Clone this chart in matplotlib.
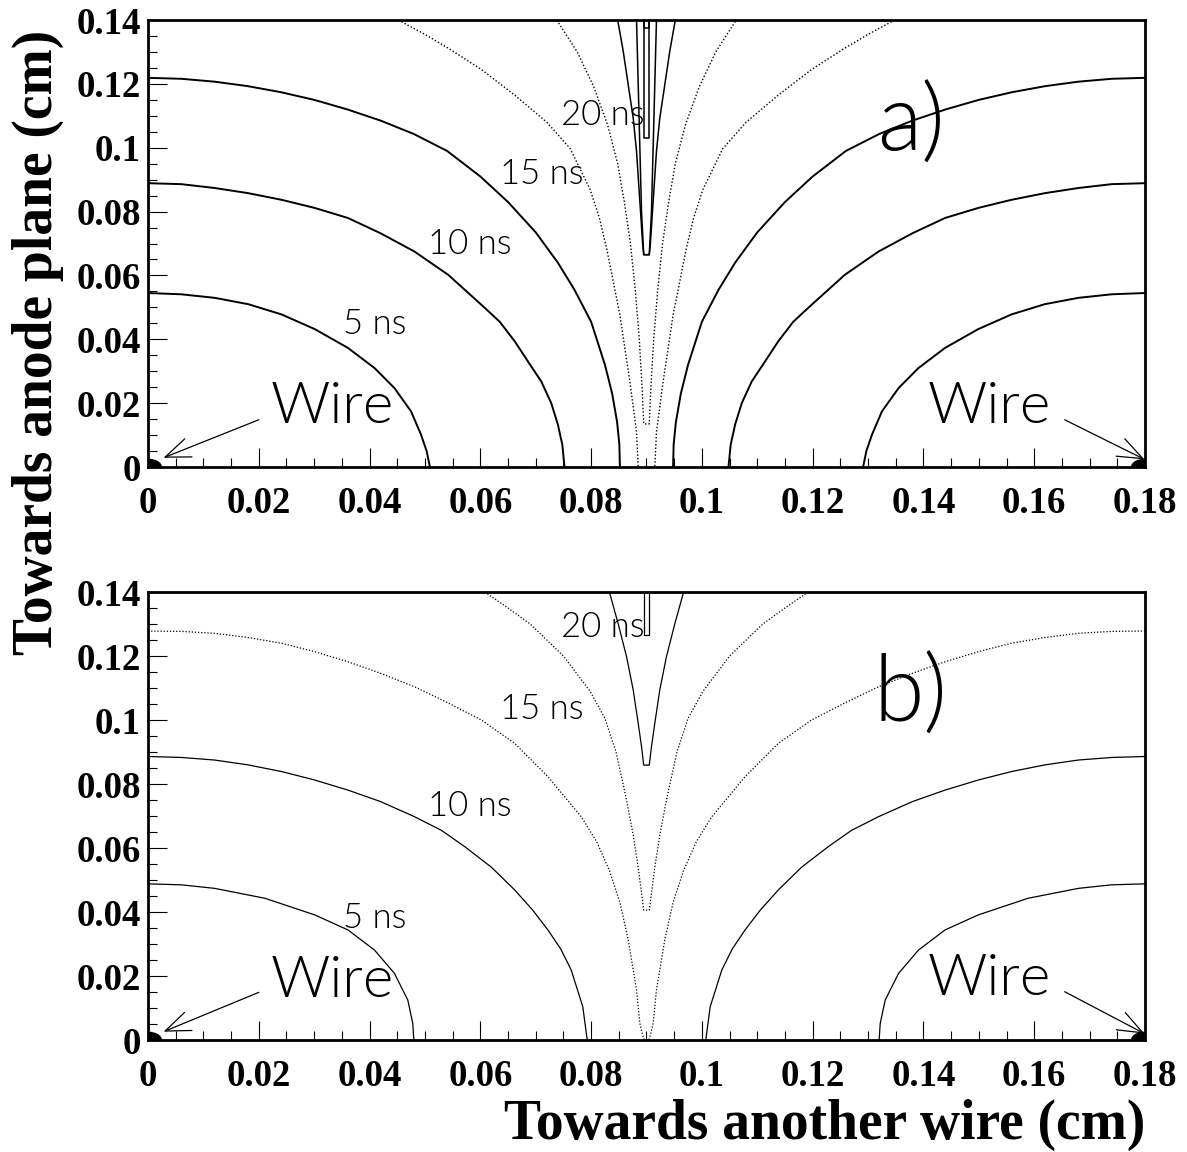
import matplotlib
matplotlib.use('Agg')
import matplotlib.pyplot as plt
from matplotlib import font_manager
from matplotlib.patches import Circle
from matplotlib.ticker import MultipleLocator, FuncFormatter

# wire spacing (cm); the cell is symmetric about CELL / 2
CELL = 0.18
TOP = 0.14

# ---- panel a) isochrones, left half (right half is the mirror image) ----
a_5ns_x = [0.0, 0.006, 0.012, 0.0181, 0.0241, 0.0301, 0.0361, 0.0409, 0.0445, 0.0475, 0.0493, 0.0503, 0.0509]
a_5ns_y = [0.0545, 0.0541, 0.0530, 0.0510, 0.0478, 0.0432, 0.0373, 0.0310, 0.0247, 0.0174, 0.0101, 0.0050, 0.0]

a_10ns_x = [0.0, 0.006, 0.012, 0.018, 0.0241, 0.030, 0.0361, 0.042, 0.0481, 0.0542, 0.0602, 0.0635,
            0.0662, 0.0690, 0.0710, 0.0728, 0.0740, 0.0748, 0.0752]
a_10ns_y = [0.0889, 0.0886, 0.0874, 0.0858, 0.0837, 0.0812, 0.0780, 0.0732, 0.0675, 0.0602, 0.0508, 0.0455,
            0.0394, 0.0320, 0.0268, 0.0200, 0.0133, 0.0070, 0.0]

a_15ns_x = [0.0, 0.006, 0.012, 0.018, 0.024, 0.030, 0.036, 0.042, 0.048, 0.054, 0.060, 0.065, 0.070,
            0.074, 0.077, 0.080, 0.0825, 0.0838, 0.0847, 0.0851, 0.0852]
a_15ns_y = [0.1219, 0.1216, 0.1207, 0.1193, 0.1174, 0.1150, 0.1120, 0.1085, 0.1043, 0.0990, 0.0910, 0.0830, 0.0735,
            0.0640, 0.0555, 0.0455, 0.0320, 0.0230, 0.0140, 0.0070, 0.0]

a_dot_outer_x = [0.0452, 0.0500, 0.0542, 0.0602, 0.0662, 0.0720, 0.0762, 0.0798, 0.0815, 0.0828, 0.0852, 0.0870, 0.0882, 0.0885]
a_dot_outer_y = [0.1400, 0.1355, 0.1312, 0.1245, 0.1165, 0.1080, 0.0998, 0.0870, 0.0780, 0.0685, 0.0476, 0.0267, 0.0110, 0.0]

# these close into narrow notches on the mid line
a_dot_inner_x = [0.0738, 0.0775, 0.0805, 0.0830, 0.0848, 0.0860, 0.0871, 0.0880, 0.0887, 0.0892, 0.0895]
a_dot_inner_y = [0.1400, 0.1300, 0.1190, 0.1070, 0.0950, 0.0830, 0.0700, 0.0550, 0.0400, 0.0250, 0.0135]

a_20ns_x = [0.0848, 0.0858, 0.0867, 0.0876, 0.0882, 0.0886, 0.0890, 0.0893, 0.0895]
a_20ns_y = [0.1400, 0.1302, 0.1197, 0.1093, 0.0989, 0.0884, 0.0780, 0.0700, 0.0665]

a_notch1_x = [0.0882, 0.0885, 0.0888, 0.0891, 0.0895]
a_notch1_y = [0.1400, 0.1200, 0.1000, 0.0800, 0.0665]

a_notch2_x = [0.0895, 0.0895]
a_notch2_y = [0.1400, 0.1030]

a_notch3_x = [0.0896, 0.0896]
a_notch3_y = [0.1400, 0.1375]

# ---- panel b) ----
b_5ns_x = [0.0, 0.006, 0.012, 0.0211, 0.0301, 0.0361, 0.0409, 0.0445, 0.0469, 0.0478, 0.0480]
b_5ns_y = [0.0488, 0.0485, 0.0474, 0.0443, 0.0391, 0.0344, 0.0281, 0.0208, 0.0125, 0.0052, 0.0]

b_10ns_x = [0.0, 0.006, 0.012, 0.018, 0.0241, 0.030, 0.0361, 0.042, 0.0481, 0.0530, 0.0572, 0.0620,
            0.0662, 0.0695, 0.0722, 0.0745, 0.0764, 0.0785, 0.0793]
b_10ns_y = [0.0886, 0.0883, 0.0875, 0.0860, 0.0839, 0.0813, 0.0781, 0.0745, 0.0698, 0.0655, 0.0604, 0.0540,
            0.0469, 0.0405, 0.0344, 0.0285, 0.0219, 0.0104, 0.0]

b_15ns_x = [0.0, 0.006, 0.012, 0.018, 0.0241, 0.030, 0.0361, 0.042, 0.0481, 0.054, 0.0602, 0.0662,
            0.0722, 0.0782, 0.0810, 0.0833, 0.0852, 0.0867, 0.0882, 0.0888, 0.0893, 0.0896]
b_15ns_y = [0.1278, 0.1277, 0.1271, 0.1258, 0.1240, 0.1214, 0.1182, 0.1146, 0.1104, 0.1055, 0.1000, 0.0927,
            0.0823, 0.0698, 0.0620, 0.0530, 0.0430, 0.0313, 0.0156, 0.0052, 0.0015, 0.0]

b_dot_inner_x = [0.0608, 0.0650, 0.0690, 0.0750, 0.0798, 0.0825, 0.0845, 0.0864, 0.0876, 0.0885, 0.0891, 0.0895]
b_dot_inner_y = [0.1400, 0.1350, 0.1300, 0.1200, 0.1090, 0.1005, 0.0900, 0.0750, 0.0640, 0.0540, 0.0460, 0.0406]

b_20ns_x = [0.0833, 0.0849, 0.0864, 0.0876, 0.0885, 0.0891, 0.0895]
b_20ns_y = [0.1400, 0.1300, 0.1198, 0.1094, 0.0990, 0.0917, 0.0859]

b_notch_x = [0.0896, 0.0896]
b_notch_y = [0.1400, 0.1266]

# label anchors (x, baseline y) in cm
ns_labels = ['5 ns', '10 ns', '15 ns', '20 ns']
a_label_pos = [(0.0410, 0.0418), (0.0581, 0.0666), (0.0711, 0.0886), (0.0821, 0.1071)]
b_label_pos = [(0.0410, 0.0350), (0.0581, 0.0699), (0.0711, 0.1003), (0.0821, 0.1260)]


def light_font():
    wanted = ['lato-light.', 'roboto-light.', 'opensans-light.', 'dejavusans-extralight.']
    files = [f.fname for f in font_manager.fontManager.ttflist]
    for w in wanted:
        for fn in files:
            if w in fn.lower().replace('_', '-'):
                return font_manager.FontProperties(fname=fn)
    return font_manager.FontProperties(family='Liberation Sans')


LIGHT = light_font()


def mirror(xs):
    return [CELL - v for v in xs]


def both_sides(ax, xs, ys, **kw):
    ax.plot(xs, ys, **kw)
    ax.plot(mirror(xs), ys, **kw)


def notch(ax, xs, ys, **kw):
    # left branch down, across the mid line, right branch back up
    ax.plot(xs + mirror(xs)[::-1], ys + ys[::-1], **kw)


def setup_axes(ax):
    ax.set_xlim(0, CELL)
    ax.set_ylim(0, TOP)
    ax.xaxis.set_major_locator(MultipleLocator(0.02))
    ax.xaxis.set_minor_locator(MultipleLocator(0.005))
    ax.yaxis.set_major_locator(MultipleLocator(0.02))
    ax.yaxis.set_minor_locator(MultipleLocator(0.005))
    fmt = FuncFormatter(lambda v, p: f"{v:g}")
    ax.xaxis.set_major_formatter(fmt)
    ax.yaxis.set_major_formatter(fmt)
    ax.tick_params(which='both', direction='in', top=False, right=False, width=0.8)
    ax.tick_params(which='major', length=13.5)
    ax.tick_params(which='minor', length=6.8)
    ax.tick_params(axis='x', pad=14)
    ax.tick_params(axis='y', pad=5)
    for lab in ax.get_xticklabels() + ax.get_yticklabels():
        lab.set_fontfamily('Liberation Serif')
        lab.set_fontweight('bold')
        lab.set_fontsize(26.5)
    for sp in ax.spines.values():
        sp.set_linewidth(2)


def wires_and_text(ax, tag, tag_y, wire_base, label_pos, arrows):
    for xw in (0.0, CELL):
        ax.add_patch(Circle((xw, 0.0), 0.0024, color='black', zorder=5))
    ax.text(0.0333, wire_base[0], 'Wire', fontproperties=LIGHT, fontsize=42,
            ha='center', va='baseline')
    ax.text(0.1518, wire_base[1], 'Wire', fontproperties=LIGHT, fontsize=42,
            ha='center', va='baseline')
    for (start, tip) in arrows:
        ax.annotate('', xy=tip, xytext=start,
                    arrowprops=dict(arrowstyle='->,head_length=0.9,head_width=0.35',
                                    lw=0.9, color='black', shrinkA=0, shrinkB=0,
                                    mutation_scale=20))
    for txt, (x, y) in zip(ns_labels, label_pos):
        ax.text(x, y, txt, fontproperties=LIGHT, fontsize=25, ha='center', va='baseline')
    ax.text(0.1377, tag_y, tag, fontproperties=LIGHT, fontsize=66, ha='center', va='center')


fig = plt.figure(figsize=(11.87, 11.52), dpi=100)
ax_a = fig.add_axes([0.1247, 0.5946, 0.8399, 0.3880])
ax_b = fig.add_axes([0.1247, 0.0972, 0.8399, 0.3889])

solid_a = dict(color='black', lw=1.4, solid_joinstyle='round')
thin_a = dict(color='black', lw=1.1, solid_joinstyle='round')
dot_a = dict(color='black', lw=1.0, linestyle=(0, (1, 1.5)))
solid_b = dict(color='black', lw=0.9, solid_joinstyle='round')
dot_b = dict(color='black', lw=0.9, linestyle=(0, (1, 1.5)))

# panel a
both_sides(ax_a, a_5ns_x, a_5ns_y, **solid_a)
both_sides(ax_a, a_10ns_x, a_10ns_y, **solid_a)
both_sides(ax_a, a_15ns_x, a_15ns_y, **solid_a)
both_sides(ax_a, a_dot_outer_x, a_dot_outer_y, **dot_a)
notch(ax_a, a_dot_inner_x, a_dot_inner_y, **dot_a)
notch(ax_a, a_20ns_x, a_20ns_y, **thin_a)
notch(ax_a, a_notch1_x, a_notch1_y, **thin_a)
notch(ax_a, a_notch2_x, a_notch2_y, **thin_a)
notch(ax_a, a_notch3_x, a_notch3_y, **thin_a)
setup_axes(ax_a)
wires_and_text(ax_a, 'a)', 0.107, (0.0138, 0.0138), a_label_pos,
               [((0.020, 0.0148), (0.0028, 0.0029)), ((0.1655, 0.0148), (0.1799, 0.0024))])

# panel b
both_sides(ax_b, b_5ns_x, b_5ns_y, **solid_b)
both_sides(ax_b, b_10ns_x, b_10ns_y, **solid_b)
notch(ax_b, b_15ns_x, b_15ns_y, **dot_b)
notch(ax_b, b_dot_inner_x, b_dot_inner_y, **dot_b)
notch(ax_b, b_20ns_x, b_20ns_y, **solid_b)
notch(ax_b, b_notch_x, b_notch_y, **solid_b)
setup_axes(ax_b)
wires_and_text(ax_b, 'b)', 0.1076, (0.0136, 0.0140), b_label_pos,
               [((0.020, 0.0149), (0.0028, 0.0026)), ((0.1655, 0.0151), (0.1799, 0.0020))])

fig.text(0.032, 0.703, 'Towards anode plane (cm)', rotation=90, ha='center', va='center',
         fontsize=40, fontweight='bold', family='Liberation Serif')
fig.text(0.9646, 0.0234, 'Towards another wire (cm)', ha='right', va='center',
         fontsize=40, fontweight='bold', family='Liberation Serif')

fig.savefig('out.png', dpi=100)
plt.close(fig)
